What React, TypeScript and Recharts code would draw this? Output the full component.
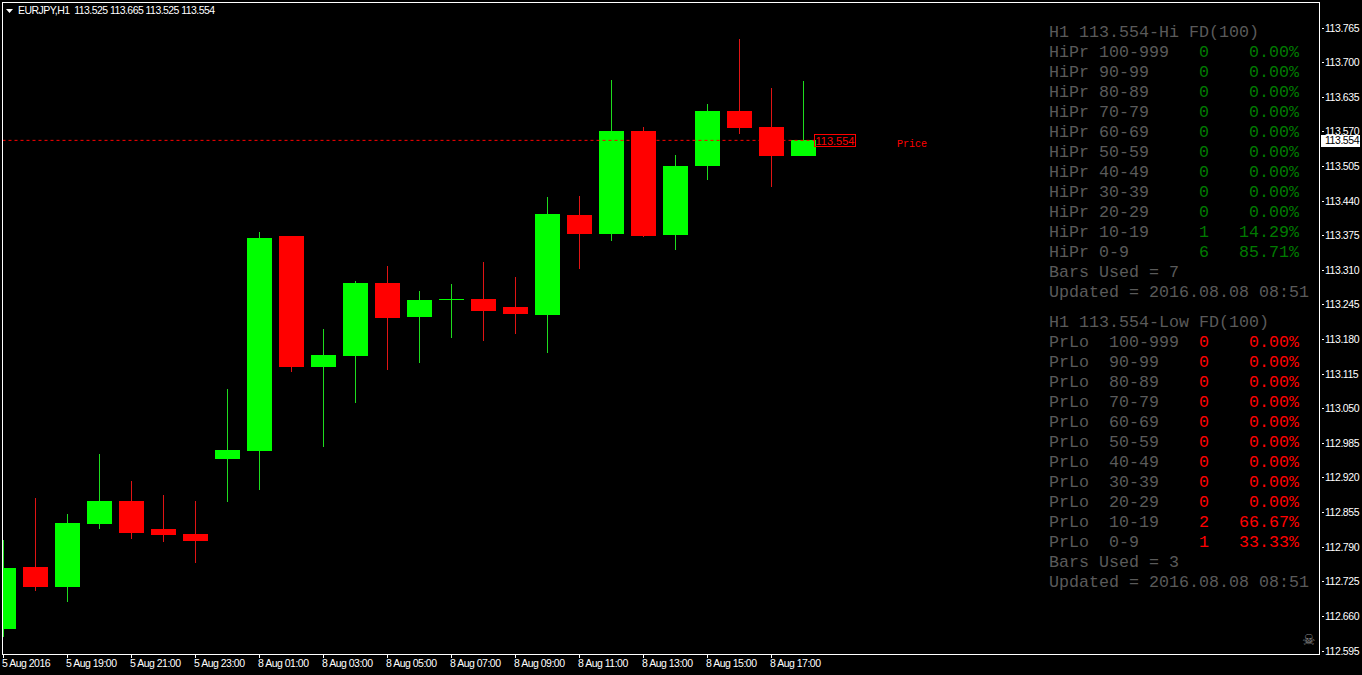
import { Bar, ComposedChart, ReferenceLine, XAxis, YAxis } from 'recharts';

const WIDTH = 1362;
const HEIGHT = 675;
const BULL = '#00ff00';
const BEAR = '#ff0000';
const WICK_BULL = '#1edc1e';
const WICK_BEAR = '#e01414';
const GREY = '#5a5a5a';
const DARK_GREEN = '#007a00';

const opens = [
  112.636, 112.753, 112.715, 112.834, 112.877, 112.824, 112.815, 112.956, 112.971, 113.374, 113.128, 113.149, 113.286,
  113.222, 113.256, 113.256, 113.241, 113.226, 113.414, 113.378, 113.572, 113.376, 113.506, 113.609, 113.579, 113.525,
];
const highs = [
  112.804, 112.882, 112.852, 112.965, 112.914, 112.888, 112.877, 113.087, 113.382, 113.374, 113.2, 113.29, 113.318,
  113.271, 113.284, 113.326, 113.297, 113.448, 113.45, 113.667, 113.579, 113.527, 113.622, 113.744, 113.652, 113.665,
];
const lows = [
  112.621, 112.708, 112.687, 112.824, 112.805, 112.8, 112.76, 112.875, 112.897, 113.119, 112.978, 113.061, 113.123,
  113.136, 113.183, 113.177, 113.19, 113.155, 113.312, 113.365, 113.373, 113.348, 113.48, 113.566, 113.466, 113.525,
];
const closes = [
  112.751, 112.715, 112.835, 112.877, 112.817, 112.813, 112.802, 112.973, 113.371, 113.128, 113.151, 113.286, 113.22,
  113.254, 113.256, 113.234, 113.228, 113.416, 113.378, 113.572, 113.374, 113.506, 113.609, 113.577, 113.525, 113.554,
];

const priceTicks = [
  113.765, 113.7, 113.635, 113.57, 113.505, 113.44, 113.375, 113.31, 113.245, 113.18, 113.115, 113.05, 112.985, 112.92,
  112.855, 112.79, 112.725, 112.66, 112.595,
];
const lastPrice = 113.554;

const timeTicks = [0, 2, 4, 6, 8, 10, 12, 14, 16, 18, 20, 22, 24];
const timeLabels = [
  '5 Aug 2016',
  '5 Aug 19:00',
  '5 Aug 21:00',
  '5 Aug 23:00',
  '8 Aug 01:00',
  '8 Aug 03:00',
  '8 Aug 05:00',
  '8 Aug 07:00',
  '8 Aug 09:00',
  '8 Aug 11:00',
  '8 Aug 13:00',
  '8 Aug 15:00',
  '8 Aug 17:00',
];

const hiRows = ['100-999', '90-99', '80-89', '70-79', '60-69', '50-59', '40-49', '30-39', '20-29', '10-19', '0-9'];
const hiCounts = [0, 0, 0, 0, 0, 0, 0, 0, 0, 1, 6];
const hiPercents = ['0.00', '0.00', '0.00', '0.00', '0.00', '0.00', '0.00', '0.00', '0.00', '14.29', '85.71'];
const loCounts = [0, 0, 0, 0, 0, 0, 0, 0, 0, 2, 1];
const loPercents = ['0.00', '0.00', '0.00', '0.00', '0.00', '0.00', '0.00', '0.00', '0.00', '66.67', '33.33'];

const candles = opens.map((open, i) => ({
  index: i,
  open,
  close: closes[i],
  high: highs[i],
  low: lows[i],
  range: [lows[i], highs[i]],
}));

function Candle({ x, y, width, height, payload }: any) {
  const { open, close, high, low } = payload;
  const h = Math.abs(height);
  const toY = (p: number) => y + (h * (high - p)) / (high - low);
  const up = close >= open;
  const cx = Math.floor(x + width / 2);
  const top = Math.round(toY(Math.max(open, close)));
  const bottom = Math.round(toY(Math.min(open, close)));
  const wickTop = Math.round(y);
  const wickBottom = Math.round(y + h);
  return (
    <g shapeRendering="crispEdges">
      <rect x={cx} y={wickTop} width={1} height={wickBottom - wickTop} fill={up ? WICK_BULL : WICK_BEAR} />
      <rect
        x={cx - 12}
        y={top}
        width={25}
        height={Math.max(1, bottom - top)}
        fill={up ? BULL : BEAR}
      />
    </g>
  );
}

function PriceTick({ y, payload }: any) {
  const fontStyle = { fontFamily: 'Liberation Sans', fontSize: 10.5, letterSpacing: -0.45 };
  if (payload.value === lastPrice) {
    return (
      <g>
        <rect x={1321} y={Math.round(y) - 5} width={39} height={12} fill="#fff" />
        <text x={1325} y={y + 4} fill="#000" style={fontStyle}>
          {payload.value.toFixed(3)}
        </text>
      </g>
    );
  }
  const yy = Math.floor(y) + 0.5;
  return (
    <g>
      <line x1={1322} x2={1324} y1={yy} y2={yy} stroke="#fff" />
      <text x={1325} y={yy + 3.5} fill="#fff" style={fontStyle}>
        {payload.value.toFixed(3)}
      </text>
    </g>
  );
}

function TimeTick({ x, payload }: any) {
  const px = Math.round(x) + 0.5;
  return (
    <g>
      <line x1={px} x2={px} y1={655} y2={658} stroke="#fff" />
      <text
        x={px - 1.5}
        y={667}
        fill="#fff"
        style={{ fontFamily: 'Liberation Sans', fontSize: 10.5, letterSpacing: -0.5 }}
      >
        {timeLabels[timeTicks.indexOf(payload.value)]}
      </text>
    </g>
  );
}

function Row({ top, label, count, pct, color }: any) {
  return (
    <div style={{ position: 'absolute', left: 1049, top, whiteSpace: 'pre', color: GREY }}>
      {label}
      {count !== undefined && (
        <span style={{ position: 'absolute', left: 150, color }}>{count}</span>
      )}
      {pct !== undefined && (
        <span style={{ position: 'absolute', left: 250 - 10 * (pct.length + 1), color }}>
          {pct}%
        </span>
      )}
    </div>
  );
}

export default function App() {
  return (
    <div style={{ position: 'absolute', left: 0, top: 0, width: WIDTH, height: HEIGHT, background: '#000', overflow: 'hidden' }}>
      <ComposedChart
        width={WIDTH}
        height={HEIGHT}
        data={candles}
        margin={{ top: 2.5, right: 0, bottom: 0, left: 2.5 }}
      >
        <XAxis
          dataKey="index"
          type="number"
          domain={[-0.0156, 41.1404]}
          allowDataOverflow
          ticks={timeTicks}
          interval={0}
          height={20.5}
          axisLine={{ stroke: '#fff' }}
          tickLine={false}
          tick={<TimeTick />}
        />
        <YAxis
          orientation="right"
          width={42.5}
          domain={[112.5885, 113.8129]}
          allowDataOverflow
          ticks={[...priceTicks, lastPrice]}
          interval={0}
          axisLine={{ stroke: '#fff' }}
          tickLine={false}
          tick={<PriceTick />}
        />
        <Bar dataKey="range" barSize={25} shape={<Candle />} isAnimationActive={false} />
        <ReferenceLine
          segment={[
            { x: -0.0156, y: lastPrice },
            { x: 25.375, y: lastPrice },
          ]}
          stroke={BEAR}
          strokeDasharray="3 3"
        />
      </ComposedChart>

      {/* chart frame */}
      <div style={{ position: 'absolute', left: 2, top: 2, width: 1316, height: 651, border: '1px solid #fff' }} />

      {/* title */}
      <svg style={{ position: 'absolute', left: 0, top: 0 }} width={20} height={20}>
        <polygon points="6,9 13,9 9.5,13" fill="#fff" />
      </svg>
      <div
        style={{
          position: 'absolute',
          left: 18,
          top: 4,
          color: '#fff',
          whiteSpace: 'pre',
          font: '10.5px "Liberation Sans"',
          letterSpacing: -0.55,
        }}
      >
        EURJPY,H1  113.525 113.665 113.525 113.554
      </div>

      {/* last price tag */}
      <div
        style={{
          position: 'absolute',
          left: 814,
          top: 134,
          width: 40,
          height: 11,
          border: '1px solid #ff0000',
          color: '#ff0000',
          font: '11px/12px "Liberation Sans"',
          textAlign: 'center',
        }}
      >
        113.554
      </div>
      <div style={{ position: 'absolute', left: 897, top: 139, color: '#ff0000', font: '10px "Liberation Mono"' }}>
        Price
      </div>

      {/* FD stats panel */}
      <div style={{ font: '16.67px/20px "Liberation Mono"' }}>
        <Row top={23} label="H1 113.554-Hi FD(100)" />
        {hiRows.map((r, i) => (
          <Row
            key={r}
            top={43 + i * 20}
            label={`HiPr ${r}`}
            count={hiCounts[i]}
            pct={hiPercents[i]}
            color={DARK_GREEN}
          />
        ))}
        <Row top={263} label="Bars Used = 7" />
        <Row top={283} label="Updated = 2016.08.08 08:51" />
        <Row top={313} label="H1 113.554-Low FD(100)" />
        {hiRows.map((r, i) => (
          <Row
            key={r}
            top={333 + i * 20}
            label={`PrLo  ${r}`}
            count={loCounts[i]}
            pct={loPercents[i]}
            color={BEAR}
          />
        ))}
        <Row top={553} label="Bars Used = 3" />
        <Row top={573} label="Updated = 2016.08.08 08:51" />
      </div>

      <div style={{ position: 'absolute', left: 1302, top: 631, color: '#8a8a8a', font: '15px "DejaVu Sans"' }}>☠</div>
    </div>
  );
}
